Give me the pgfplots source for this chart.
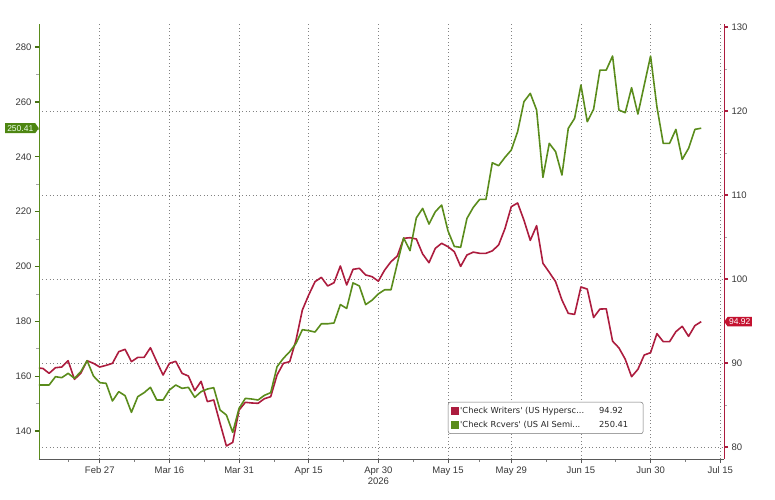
\documentclass[border=0pt]{standalone}
\usepackage{pgfplots}
\usepackage{pgfplotstable}
\pgfplotsset{compat=1.18}
\usepackage{fontspec}
\setmainfont{Liberation Sans}
\newfontfamily\legfont{DejaVu Sans}
\usetikzlibrary{shapes.symbols}
\definecolor{cred}{RGB}{172,28,62}
\definecolor{cgreen}{RGB}{90,140,28}
\definecolor{tagred}{RGB}{196,18,48}
\definecolor{taggreen}{RGB}{78,134,18}
\definecolor{gridc}{RGB}{130,130,130}
\definecolor{labc}{RGB}{55,55,55}

\pgfplotstableread{
k red green
-10 89.40 156.8
-9 89.36 156.78
-8 88.77 156.78
-7 89.44 159.82
-6 89.52 159.45
-5 90.27 161.03
-4 88.06 159.21
-3 88.77 161.64
-2 90.27 165.65
-1 89.96 160.06
0 89.52 157.63
1 89.72 157.39
2 89.96 150.95
3 91.35 154.35
4 91.63 152.89
5 90.16 146.81
6 90.67 152.53
7 90.67 153.98
8 91.82 155.93
9 90.16 151.31
10 88.57 151.31
11 89.96 154.96
12 90.20 156.78
13 88.77 155.56
14 88.45 155.93
15 86.71 152.28
16 87.82 154.35
17 85.40 155.32
18 85.60 155.81
19 82.82 147.66
20 80.12 145.84
21 80.55 139.52
22 84.40 148.27
23 85.32 151.92
24 85.24 151.67
25 85.20 151.31
26 85.75 153.01
27 85.99 153.98
28 88.57 163.46
29 89.96 166.50
30 90.16 168.93
31 92.74 171.97
32 96.31 176.95
33 98.10 176.60
34 99.68 176.10
35 100.20 179.10
36 99.17 179.10
37 99.56 179.40
38 101.55 186.10
39 99.29 184.70
40 101.15 194.00
41 101.27 192.90
42 100.48 186.10
43 100.28 187.70
44 99.74 190.00
45 101.07 191.50
46 102.06 191.50
47 102.74 201.13
48 104.84 210.40
49 104.92 205.75
50 104.76 217.70
51 102.98 221.18
52 101.94 215.47
53 103.65 219.97
54 104.25 222.40
55 103.85 213.00
56 103.25 207.30
57 101.50 206.97
58 102.86 217.54
59 103.20 221.55
60 103.06 224.46
61 103.06 224.46
62 103.35 237.80
63 104.05 236.74
64 106.00 239.78
65 108.61 242.45
66 109.05 249.14
67 107.00 260.08
68 104.60 263.11
69 106.35 257.04
70 101.87 232.49
71 100.80 244.88
72 99.68 241.85
73 97.50 233.34
74 95.91 250.35
75 95.79 254.00
76 99.05 266.15
77 98.80 252.78
78 95.42 257.30
79 96.42 271.60
80 96.45 271.61
81 92.60 276.72
82 91.80 257.03
83 90.45 256.06
84 88.37 265.17
85 89.25 255.57
86 90.95 266.14
87 91.23 276.72
88 93.50 258.25
89 92.54 244.88
90 92.54 244.88
91 93.73 249.98
92 94.37 239.05
93 93.17 243.06
94 94.45 249.98
95 94.92 250.41
}\datatable

\pgfplotsset{
  common/.style={
    at={(0,0)}, anchor=south west,
    scale only axis, width=685pt, height=435pt,
    xmin=-9.6, xmax=98.6,
    clip mode=individual,
    tick align=outside,
    major tick length=4pt,
    minor tick length=2.5pt,
    /pgf/number format/assume math mode=true,
    ticklabel style={font=\fontsize{9.5}{11}\selectfont, text=labc},
  }
}

\begin{document}
\begin{tikzpicture}[x=1pt,y=1pt]
\path[use as bounding box] (-39,-40) rectangle (736,459);

% right axis (red series), also carries the date axis and the grid
\begin{axis}[common,
  ymin=78.57, ymax=130.36,
  axis y line*=right,
  axis x line*=bottom,
  ytick={80,90,100,110,120},
  extra y ticks={130},
  extra y tick style={grid=none},
  minor ytick={85,95,105,115,125},
  xtick={0,11,22,33,44,55,65,76,87,98},
  xticklabels={Feb 27,Mar 16,Mar 31,Apr 15,Apr 30\\2026,May 15,May 29,Jun 15,Jun 30,Jul 15},
  xticklabel style={align=center},
  minor xtick={-5,5.5,16.5,27.5,38.5,49.5,60,70.5,81.5,92.5},
  xmajorgrids, ymajorgrids,
  major grid style={gridc, dash pattern=on 0.9pt off 2.6pt, line width=0.6pt},
  x axis line style={black!65, line width=0.8pt},
  y axis line style={cred, line width=0.8pt},
  major y tick style={cred, line width=1.3pt},
  minor y tick style={black!35, line width=0.6pt},
  major x tick style={black!65, line width=0.6pt},
  minor x tick style={black!50, line width=0.6pt},
]
\addplot[cred, line width=1.6pt, line join=round] table[x=k, y=red]{\datatable};
\node[signal, signal to=west, signal pointer angle=110, fill=tagred, text=white,
      font=\fontsize{8.5}{9}\selectfont, inner xsep=1.5pt, inner ysep=1.8pt, anchor=west]
  at (axis cs:98.6,94.92) {94.92};
\end{axis}

% left axis (green series)
\begin{axis}[common,
  ymin=129.8, ymax=288.4,
  hide x axis,
  axis y line*=left,
  ytick={140,160,...,280},
  minor ytick={150,170,...,270},
  y axis line style={cgreen, line width=0.8pt},
  major y tick style={cgreen!80!black, line width=1.3pt},
  minor y tick style={black!35, line width=0.6pt},
  legend style={at={(0.597,0.0575)}, anchor=south west,
    draw=black!55, rounded corners=2.5pt, line width=0.5pt,
    font=\legfont\fontsize{8.3}{10}\selectfont, text=black!85,
    inner xsep=3pt, inner ysep=3pt, row sep=2pt},
  legend cell align=left,
]
\addlegendimage{legend image code/.code={\fill[cred, sharp corners] (0pt,-3pt) rectangle (6.5pt,3.5pt);}}
\addlegendentry{\makebox[178pt][l]{\makebox[139pt][l]{\textquotesingle Check Writers\textquotesingle{} (US Hypersc...}94.92}}
\addlegendimage{legend image code/.code={\fill[cgreen, sharp corners] (0pt,-3pt) rectangle (6.5pt,3.5pt);}}
\addlegendentry{\makebox[178pt][l]{\makebox[139pt][l]{\textquotesingle Check Rcvers\textquotesingle{} (US AI Semi...}250.41}}
\addplot[cgreen, line width=1.6pt, line join=round, forget plot] table[x=k, y=green]{\datatable};
\node[signal, signal to=east, signal pointer angle=110, fill=taggreen, text=white!92!green,
      font=\fontsize{8.5}{9}\selectfont, inner xsep=2pt, inner ysep=2pt, anchor=east]
  at (axis cs:-9.6,250.41) {250.41};
\end{axis}
\end{tikzpicture}
\end{document}
